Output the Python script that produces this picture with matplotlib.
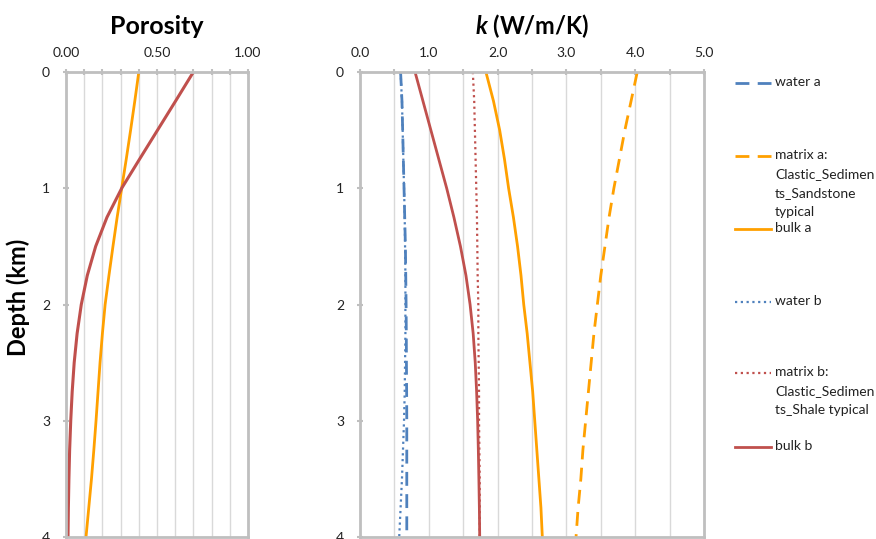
import numpy as np
import matplotlib
matplotlib.use("Agg")
from matplotlib import pyplot as plt
from matplotlib.lines import Line2D

plt.rcParams['font.family'] = ['Lato', 'DejaVu Sans']
plt.rcParams['mathtext.fontset'] = 'custom'
plt.rcParams['mathtext.bfit'] = 'Lato:italic:bold'

# depth (km) and porosity
depth_phi = [0, 0.25, 0.5, 0.75, 1.0, 1.25, 1.5, 1.75, 2.0, 2.25, 2.5, 2.75, 3.0, 3.25, 3.5, 3.75, 4.0]
phi_a = [0.40, 0.378, 0.355, 0.331, 0.306, 0.281, 0.258, 0.236, 0.215, 0.200, 0.187, 0.176, 0.165, 0.153, 0.140, 0.125, 0.11]
phi_b = [0.70, 0.602, 0.503, 0.404, 0.306, 0.225, 0.163, 0.117, 0.084, 0.061, 0.045, 0.034, 0.026, 0.020, 0.016, 0.013, 0.011]

# thermal conductivity k (W/m/K)
depth_k = [0, 0.25, 0.5, 0.75, 1.0, 1.25, 1.5, 1.75, 2.0, 2.25, 2.5, 2.75, 3.0, 3.25, 3.5, 3.75, 4.0]
water_a = [0.59, 0.61, 0.62, 0.63, 0.64, 0.65, 0.66, 0.665, 0.67, 0.673, 0.675, 0.678, 0.68, 0.68, 0.68, 0.68, 0.68]
matrix_a = [4.03, 3.94, 3.85, 3.77, 3.69, 3.62, 3.56, 3.50, 3.45, 3.40, 3.36, 3.32, 3.28, 3.24, 3.21, 3.17, 3.14]
bulk_a = [1.83, 1.94, 2.03, 2.10, 2.16, 2.23, 2.29, 2.34, 2.38, 2.43, 2.47, 2.51, 2.54, 2.57, 2.60, 2.63, 2.65]
water_b = [0.59, 0.61, 0.62, 0.63, 0.64, 0.65, 0.655, 0.66, 0.66, 0.66, 0.655, 0.65, 0.64, 0.625, 0.61, 0.59, 0.57]
matrix_b = [1.64, 1.66, 1.67, 1.68, 1.69, 1.70, 1.705, 1.71, 1.72, 1.72, 1.725, 1.73, 1.73, 1.735, 1.74, 1.74, 1.74]
bulk_b = [0.80, 0.915, 1.03, 1.145, 1.26, 1.365, 1.46, 1.54, 1.60, 1.645, 1.675, 1.695, 1.71, 1.72, 1.728, 1.735, 1.74]

orange = '#FFA000'
red = '#C0504D'
blue = '#4F81BD'
grid_c = '#D9D9D9'
axis_c = '#BFBFBF'

dash = (0, (5, 3))
dot = (0, (1, 1.6))

fig = plt.figure(figsize=(8.76, 5.39), dpi=100)
ax1 = fig.add_axes([66 / 876, 1 - 537 / 539, 182 / 876, 465 / 539])
ax2 = fig.add_axes([360 / 876, 1 - 537 / 539, 344 / 876, 465 / 539])


def style(ax, xmax, major, minor, fmt):
    ax.set_ylim(4, 0)
    ax.set_xlim(0, xmax)
    ax.xaxis.tick_top()
    ax.set_xticks(np.arange(0, xmax + 1e-9, major))
    ax.set_xticklabels([fmt % v for v in np.arange(0, xmax + 1e-9, major)])
    ax.set_xticks(np.arange(0, xmax + 1e-9, minor), minor=True)
    ax.set_yticks([0, 1, 2, 3, 4])
    ax.grid(True, axis='x', which='both', color=grid_c, lw=1)
    ax.set_axisbelow(True)
    for s in ax.spines.values():
        s.set_color(axis_c)
        s.set_linewidth(2)
    ax.tick_params(axis='both', which='both', color=axis_c, width=1.5, length=5,
                   direction='inout', labelsize=10, labelcolor='#222222', pad=7)
    ax.tick_params(axis='y', pad=9, length=5)


style(ax1, 1.0, 0.5, 0.1, '%.2f')
style(ax2, 5.0, 1.0, 0.5, '%.1f')

ax1.plot(phi_a, depth_phi, color=orange, lw=2)
ax1.plot(phi_b, depth_phi, color=red, lw=2.2)
ax1.set_title('Porosity', fontsize=18, fontweight='bold', pad=27)
ax1.set_ylabel('Depth (km)', fontsize=17, fontweight='bold')
ax1.yaxis.set_label_coords(-0.20, 0.515)

h_wa, = ax2.plot(water_a, depth_k, color=blue, lw=2, ls=dash)
h_ma, = ax2.plot(matrix_a, depth_k, color=orange, lw=2, ls=dash)
h_ba, = ax2.plot(bulk_a, depth_k, color=orange, lw=2)
h_wb, = ax2.plot(water_b, depth_k, color=blue, lw=1.6, ls=dot)
h_mb, = ax2.plot(matrix_b, depth_k, color=red, lw=1.6, ls=dot)
h_bb, = ax2.plot(bulk_b, depth_k, color=red, lw=2)
ax2.set_title(r'$\mathbfit{k}$ (W/m/K)', fontsize=17, fontweight='bold', pad=27)

# legend entries placed like the spread-out Excel legend
labels = ['water a', 'matrix a:\nClastic_Sedimen\nts_Sandstone\ntypical', 'bulk a',
          'water b', 'matrix b:\nClastic_Sedimen\nts_Shale typical', 'bulk b']
handles = [h_wa, h_ma, h_ba, h_wb, h_mb, h_bb]
styles = [dash, dash, '-', dot, dot, '-']
ypix = [83, 156, 229, 302, 373, 447]
for h, st, lab, yp in zip(handles, styles, labels, ypix):
    y = 1 - yp / 539
    fig.add_artist(Line2D([735 / 876, 771 / 876], [y, y], transform=fig.transFigure,
                          color=h.get_color(), lw=h.get_linewidth(), ls=st))
    fig.text(775 / 876, y + 7 / 539, lab, fontsize=10, va='top', ha='left', color='#222222',
             linespacing=1.7, transform=fig.transFigure)

fig.savefig('out.png', dpi=100)
